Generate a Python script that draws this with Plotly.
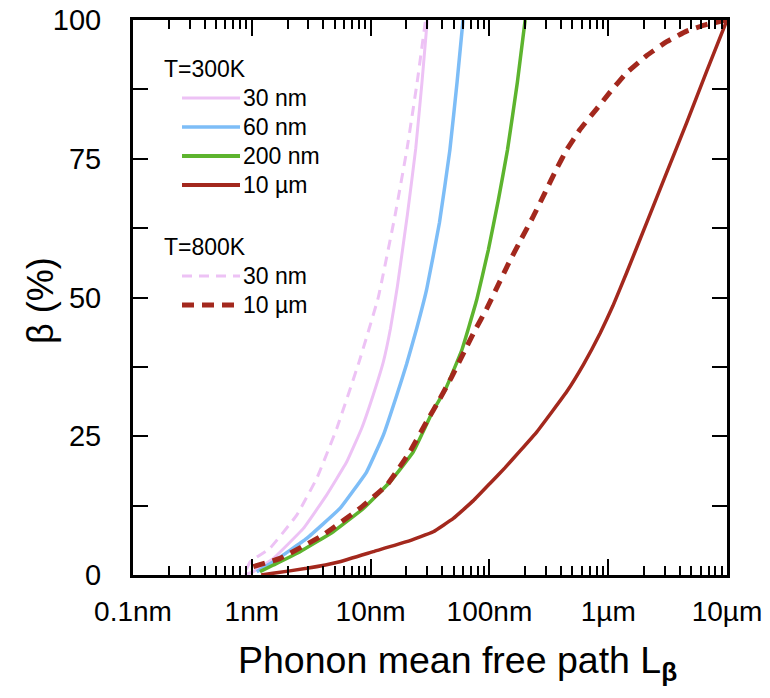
import plotly.graph_objects as go

# Phonon mean free path (nm) vs accumulated contribution beta (%)
# T = 300 K, film thickness 30 nm
mfp_300_30nm = [0.87, 1.03, 1.52, 2.72, 4.26, 6.3, 8.4, 10.5, 12.8, 14.7, 16.8, 20.4, 24.0, 27.1, 30.0]
beta_300_30nm = [0.0, 0.6, 3.0, 8.4, 14.4, 20.4, 26.4, 32.4, 38.4, 44.4, 52.0, 64.9, 76.9, 88.9, 100.0]

# T = 300 K, 60 nm
mfp_300_60nm = [1.10, 1.52, 2.9, 5.52, 9.27, 12.8, 16.6, 20.1, 24.5, 29.6, 38.0, 46.5, 53.5, 60.0]
beta_300_60nm = [0.6, 2.4, 6.6, 12.0, 18.6, 25.2, 32.4, 38.0, 44.5, 51.4, 63.5, 76.6, 88.9, 100.0]

# T = 300 K, 200 nm
mfp_300_200nm = [1.17, 1.52, 2.55, 4.85, 8.7, 14.6, 22.9, 28.5, 33.7, 42.3, 58.5, 78.0, 98.0, 119.0, 142.0, 172.0, 200.0]
beta_300_200nm = [0.6, 1.8, 4.2, 7.8, 12.0, 16.8, 22.2, 26.4, 29.7, 33.3, 40.5, 49.5, 58.6, 67.6, 76.6, 88.8, 100.0]

# T = 300 K, 10 um
mfp_300_10um = [1.2, 1.5, 2.9, 5.5, 10.5, 20.1, 33.7, 49.7, 73.3, 101.0, 135.0, 182.0, 251.0, 339.0, 447.0,
                622.0, 857.0, 1096.0, 1432.0, 2110.0, 3105.0, 4580.0, 6750.0, 10000.0]
beta_300_10um = [0.0, 0.3, 1.2, 2.4, 4.2, 6.0, 7.8, 10.2, 13.4, 16.5, 19.3, 22.4, 25.8, 29.5, 33.0,
                 38.0, 43.6, 48.5, 54.5, 63.5, 72.5, 81.5, 90.8, 100.0]

# T = 800 K, 30 nm
mfp_800_30nm = [0.9, 0.97, 1.42, 2.39, 3.52, 5.19, 8.0, 11.6, 16.1, 20.3, 24.7, 29.0]
beta_800_30nm = [1.0, 2.4, 4.8, 10.8, 17.4, 26.4, 38.4, 50.0, 64.9, 76.9, 88.9, 100.0]

# T = 800 K, 10 um
mfp_800_10um = [1.03, 1.73, 3.98, 8.1, 13.7, 21.4, 29.6, 38.4, 48.2, 60.3, 75.6, 95.0, 117.0, 144.0, 187.0,
                234.0, 294.0, 368.0, 447.0, 580.0, 800.0, 1036.0, 1432.0, 2110.0, 3105.0, 4576.0, 6750.0,
                9020.0, 10000.0]
beta_800_10um = [1.5, 3.0, 7.2, 12.0, 16.2, 22.2, 27.6, 31.8, 35.7, 39.9, 44.1, 48.0, 52.0, 56.0, 60.7,
                 64.6, 68.9, 73.2, 76.6, 80.3, 84.0, 87.0, 90.5, 93.6, 96.1, 98.0, 99.2,
                 99.8, 100.0]

x_tick_vals = [0.1, 1, 10, 100, 1000, 10000]
x_tick_text = ["0.1nm", "1nm", "10nm", "100nm", "1\u00b5m", "10\u00b5m"]
y_tick_vals = [0, 25, 50, 75, 100]
y_tick_text = ["0", "25", "50", "75", "100"]

X_TITLE = "Phonon mean free path L<sub><b>\u03b2</b></sub>"
Y_TITLE = "\u03b2 (%)"

PINK = "#EDC2F5"
BLUE = "#7DBDF7"
GREEN = "#5DB42E"
DARKRED = "#A3281D"
FONT = "Liberation Sans, Arial, sans-serif"

series = [
    # label, group, x, y, colour, width, dash
    ("30 nm", "300", mfp_300_30nm, beta_300_30nm, PINK, 3, "solid"),
    ("60 nm", "300", mfp_300_60nm, beta_300_60nm, BLUE, 3.5, "solid"),
    ("200 nm", "300", mfp_300_200nm, beta_300_200nm, GREEN, 3.5, "solid"),
    ("10 \u00b5m", "300", mfp_300_10um, beta_300_10um, DARKRED, 3.5, "solid"),
    ("30 nm", "800", mfp_800_30nm, beta_800_30nm, PINK, 3, "10px,7px"),
    ("10 \u00b5m", "800", mfp_800_10um, beta_800_10um, DARKRED, 5, "12px,8px"),
]

fig = go.Figure()
for name, grp, xs, ys, col, w, dash in series:
    fig.add_trace(go.Scatter(
        x=xs, y=ys, mode="lines", name=name, legendgroup=grp, showlegend=False,
        line=dict(color=col, width=w, dash=dash, shape="spline", smoothing=0.3),
    ))

PL, PT, PW, PH = 133, 20, 594, 555


def px_x(px):
    return (px - PL) / PW


def px_y(py):
    return 1 - (py - PT) / PH


# Hand-placed key in the upper-left corner of the axes (paper coordinates)
key_rows = [
    ("title", "T=300K", None, None, None, 69),
    ("item", "30 nm", PINK, 3, "solid", 98),
    ("item", "60 nm", BLUE, 3.5, "solid", 127),
    ("item", "200 nm", GREEN, 4, "solid", 156),
    ("item", "10 \u00b5m", DARKRED, 4, "solid", 185),
    ("title", "T=800K", None, None, None, 247),
    ("item", "30 nm", PINK, 3, "10px,7px", 276),
    ("item", "10 \u00b5m", DARKRED, 5, "12px,8px", 305),
]

for kind, text, col, w, dash, py in key_rows:
    if kind == "title":
        fig.add_annotation(x=px_x(162), y=px_y(py), xref="paper", yref="paper", text=text,
                           showarrow=False, xanchor="left", yanchor="middle",
                           font=dict(family=FONT, size=23, color="black"))
    else:
        fig.add_shape(type="line", xref="paper", yref="paper",
                      x0=px_x(182), x1=px_x(240), y0=px_y(py), y1=px_y(py),
                      line=dict(color=col, width=w, dash=dash))
        fig.add_annotation(x=px_x(241), y=px_y(py), xref="paper", yref="paper", text=text,
                           showarrow=False, xanchor="left", yanchor="middle",
                           font=dict(family=FONT, size=23, color="black"))

# Axis titles
fig.add_annotation(x=px_x(457), y=px_y(663), xref="paper", yref="paper", text=X_TITLE,
                   showarrow=False, xanchor="center", yanchor="middle",
                   font=dict(family=FONT, size=37.5, color="black"))
fig.add_annotation(x=px_x(40), y=px_y(301), xref="paper", yref="paper", text=Y_TITLE,
                   showarrow=False, xanchor="center", yanchor="middle", textangle=-90,
                   font=dict(family=FONT, size=36, color="black"))

fig.update_layout(
    width=770, height=698, autosize=False,
    margin=dict(l=PL, r=770 - PL - PW, t=PT, b=698 - PT - PH, autoexpand=False),
    paper_bgcolor="white", plot_bgcolor="white",
    font=dict(family=FONT, color="black"),
    showlegend=False,
)

fig.update_xaxes(
    type="log", range=[-1, 4], automargin=False,
    tickvals=x_tick_vals, ticktext=x_tick_text,
    tickfont=dict(family=FONT, size=28, color="black"),
    ticks="inside", ticklen=16, tickwidth=2, tickcolor="black",
    minor=dict(ticks="inside", ticklen=9, tickwidth=2, tickcolor="black", dtick="D1", showgrid=False),
    showline=True, linewidth=3, linecolor="black", mirror="ticks",
    showgrid=False, zeroline=False,
    ticklabelstandoff=9,
)
fig.update_yaxes(
    range=[0, 100], automargin=False,
    tickvals=y_tick_vals, ticktext=y_tick_text,
    tickfont=dict(family=FONT, size=29, color="black"),
    ticks="inside", ticklen=15, tickwidth=2, tickcolor="black",
    minor=dict(ticks="inside", ticklen=15, tickwidth=2, tickcolor="black", dtick=12.5, showgrid=False),
    showline=True, linewidth=3, linecolor="black", mirror="ticks",
    showgrid=False, zeroline=False,
    ticklabelstandoff=23,
)

fig.write_html("out.html")
